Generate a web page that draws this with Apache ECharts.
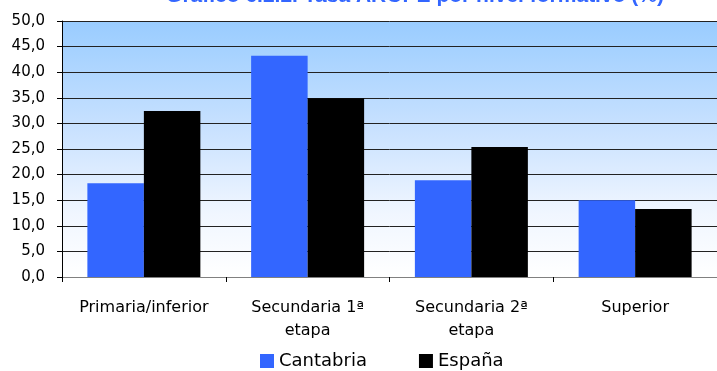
<!DOCTYPE html>
<html><head><meta charset="utf-8">
<script src="https://cdn.jsdelivr.net/npm/echarts@6/dist/echarts.min.js"></script>
<style>html,body{margin:0;padding:0;background:#fff}#c{width:717px;height:371px}</style>
</head><body><div id="c"></div>
<script>
const categories = ['Primaria/inferior', 'Secundaria 1ª\netapa', 'Secundaria 2ª\netapa', 'Superior'];
const cantabria = [18.3, 43.2, 18.9, 15.0];
const espana = [32.4, 34.9, 25.4, 13.3];
const seriesNames = ['Cantabria', 'España'];
const titleText = 'Gráfico 6.2.2. Tasa AROPE por nivel formativo (%)';

const font = '"DejaVu Sans", sans-serif';
const chart = echarts.init(document.getElementById('c'), null, {renderer: 'canvas'});
chart.setOption({
  animation: false,
  title: {
    text: titleText, left: 410, textAlign: 'center', top: -19,
    textStyle: {color: '#3366FF', fontSize: 21, fontWeight: 'bold', fontFamily: 'Arial, "Liberation Sans", sans-serif'}
  },
  legend: {
    data: seriesNames, bottom: -4, left: 255, itemWidth: 14, itemHeight: 14, itemGap: 52,
    icon: 'rect',
    textStyle: {fontSize: 18, color: '#000', fontFamily: font}
  },
  grid: {
    left: 62, right: -9, top: 21, bottom: 94, show: true, borderWidth: 0,
    backgroundColor: new echarts.graphic.LinearGradient(0, 0, 0, 1, [
      {offset: 0, color: '#99CCFF'},
      {offset: 0.45, color: '#CCE3FF'},
      {offset: 0.75, color: '#F0F6FF'},
      {offset: 1, color: '#FFFFFF'}
    ])
  },
  xAxis: {
    type: 'category', data: categories,
    axisLine: {lineStyle: {color: '#808080', width: 1}},
    axisTick: {show: true, length: 5, lineStyle: {color: '#000'}},
    axisLabel: {fontSize: 16, color: '#000', fontFamily: font, margin: 19, lineHeight: 23, interval: 0}
  },
  yAxis: {
    type: 'value', min: 0, max: 50, interval: 5,
    axisLine: {show: true, lineStyle: {color: '#000'}},
    axisTick: {show: true, length: 5, lineStyle: {color: '#000'}},
    splitLine: {lineStyle: {color: '#222', width: 1}},
    axisLabel: {fontSize: 15, color: '#000', fontFamily: font, margin: 17,
      formatter: v => v.toFixed(1).replace('.', ',')}
  },
  series: [
    {name: seriesNames[0], type: 'bar', data: cantabria, barGap: '0%', barCategoryGap: '31%',
     itemStyle: {color: '#3366FF'}},
    {name: seriesNames[1], type: 'bar', data: espana, barGap: '0%', barCategoryGap: '31%',
     itemStyle: {color: '#000000'}}
  ]
});
</script></body></html>
